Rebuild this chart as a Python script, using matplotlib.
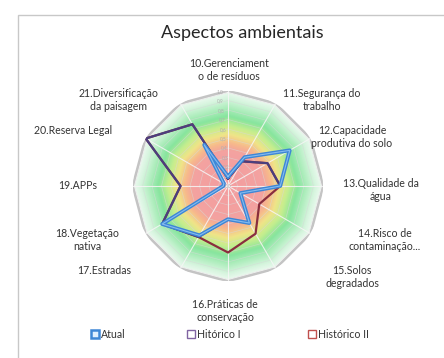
import numpy as np
import matplotlib
matplotlib.use("Agg")
import matplotlib.pyplot as plt
from matplotlib.colors import to_rgb
from matplotlib.lines import Line2D
from matplotlib.patches import Rectangle

plt.rcParams['font.family'] = ['Lato', 'DejaVu Sans']

# ---------------- data ----------------
categories = ["10.Gerenciament\no de resíduos", "11.Segurança do\ntrabalho",
              "12.Capacidade\nprodutiva do solo", "13.Qualidade da\nágua",
              "14.Risco de\ncontaminação...", "15.Solos\ndegradados",
              "16.Práticas de\nconservação", "17.Estradas", "18.Vegetação\nnativa",
              "19.APPs", "20.Reserva Legal", "21.Diversificação\nda paisagem"]
atual = [0.10, 0.35, 0.75, 0.55, 0.15, 0.45, 0.35, 0.60, 0.80, 0.05, 0.05, 0.50]
historico_1 = [0.08, 0.30, 0.48, 0.55, 0.15, 0.45, 0.35, 0.62, 0.80, 0.50, 1.00, 0.75]
historico_2 = [0.08, 0.30, 0.48, 0.55, 0.38, 0.58, 0.70, 0.62, 0.80, 0.50, 1.00, 0.75]
series_names = ["Atual", "Hitórico I", "Histórico II"]
r_ticks = [0.0, 0.1, 0.2, 0.3, 0.4, 0.5, 0.6, 0.7, 0.8, 0.9, 1.0]
r_tick_labels = ["0,0", "0,1", "0,2", "0,3", "0,4", "0,5", "0,6", "0,7", "0,8", "0,9", "1,0"]

# ---------------- figure ----------------
W, H = 444, 358
fig = plt.figure(figsize=(W / 100, H / 100), dpi=100)
fig.patch.set_facecolor("white")

def fx(px):
    return px / W

def fy(py):
    return 1 - py / H

# chart frame
fig.patches.append(Rectangle((fx(18), fy(400)), fx(500) - fx(18), fy(15) - fy(400),
                             transform=fig.transFigure, fill=False,
                             edgecolor="#c8c8c8", lw=1.0))

cx, cy, R = 228, 186, 95
ax = fig.add_axes([fx(cx - R), fy(cy + R), 2 * R / W, 2 * R / H], projection="polar")
ax.set_theta_zero_location("N")
ax.set_theta_direction(-1)
ax.set_ylim(0, 1)
ax.grid(False)
ax.set_xticks([])
ax.set_yticks([])
ax.spines["polar"].set_visible(False)
ax.patch.set_alpha(0)

n = len(categories)
theta = np.arange(n) * 2 * np.pi / n
theta_c = np.append(theta, theta[0])

# background colour bands (gradient)
anchors_r = [0.0, 0.38, 0.46, 0.55, 0.64, 0.74, 0.84, 0.93, 1.0]
anchors_c = ["#f39c9e", "#f3a2a0", "#f7b98c", "#f0e488", "#c6ee8e", "#88e59f",
             "#b2eec0", "#d8f5e0", "#eefaf1"]
anchors_rgb = np.array([to_rgb(c) for c in anchors_c])
levels = np.linspace(1.0, 0.005, 200)
for lv in levels:
    col = [np.interp(lv, anchors_r, anchors_rgb[:, k]) for k in range(3)]
    ax.fill(theta_c, np.full(n + 1, lv), color=col, lw=0, zorder=1)

# grid rings
for lv in r_ticks[1:-1]:
    ax.plot(theta_c, np.full(n + 1, lv), color="#d8d8d8", lw=0.5, alpha=0.6, zorder=2)
ax.plot(theta_c, np.full(n + 1, 1.0), color="#c4c4c4", lw=2.2, zorder=2)
ax.plot(theta_c, np.full(n + 1, 0.985), color="#f2f2f2", lw=0.6, zorder=2)
# spokes
for t in theta:
    ax.plot([t, t], [0, 1], color="#f6f6f6", lw=0.8, alpha=0.85, zorder=2)

# tick labels along top axis
for v, lab in zip(r_ticks, r_tick_labels):
    ax.text(-0.09, v, lab, fontsize=3.5, color="#b0b0b0", ha="center", va="center", zorder=3)

# series
c_atual, c_h1, c_h2 = "#3d86d6", "#4b3f7e", "#8a2e3e"
ax.plot(theta_c, historico_2 + historico_2[:1], color=c_h2, lw=1.6, zorder=4)
ax.plot(theta_c, historico_1 + historico_1[:1], color=c_h1, lw=1.6, zorder=5)
ax.plot(theta_c, atual + atual[:1], color=c_atual, lw=2.8, zorder=6)
ax.plot(theta_c, atual + atual[:1], color="#86bcee", lw=0.8, zorder=7)

# title
fig.text(fx(242), fy(33), "Aspectos ambientais", fontsize=13, color="#262626",
         ha="center", va="center")

# category labels
label_pos = [(229, 70), (322, 100), (352, 137), (381, 190), (385, 240), (352, 277),
             (225, 311), (104, 271), (87, 240), (78, 186), (73, 130), (118, 100)]
for lab, (px, py) in zip(categories, label_pos):
    fig.text(fx(px), fy(py), lab, fontsize=7.6, color="#333333", ha="center",
             va="center", linespacing=1.2)

# legend (one entry each, placed as in the reference)
handles = [Line2D([], [], ls="none", marker="s", markersize=6, markerfacecolor="#dfefff",
                  markeredgecolor=c_atual, markeredgewidth=1.8),
           Line2D([], [], ls="none", marker="s", markersize=6, markerfacecolor="white",
                  markeredgecolor="#8064a2", markeredgewidth=1.0),
           Line2D([], [], ls="none", marker="s", markersize=6, markerfacecolor="white",
                  markeredgecolor="#c0504d", markeredgewidth=1.0)]
leg_x = [91, 187, 308]
for h, name, lx in zip(handles, series_names, leg_x):
    lg = fig.legend([h], [name], loc="center left", bbox_to_anchor=(fx(lx), fy(334)),
                    frameon=False, fontsize=7.6, handlelength=0.7, handletextpad=0.25,
                    borderpad=0, borderaxespad=0)
    for t in lg.get_texts():
        t.set_color("#333333")

fig.savefig("out.png", dpi=100)
